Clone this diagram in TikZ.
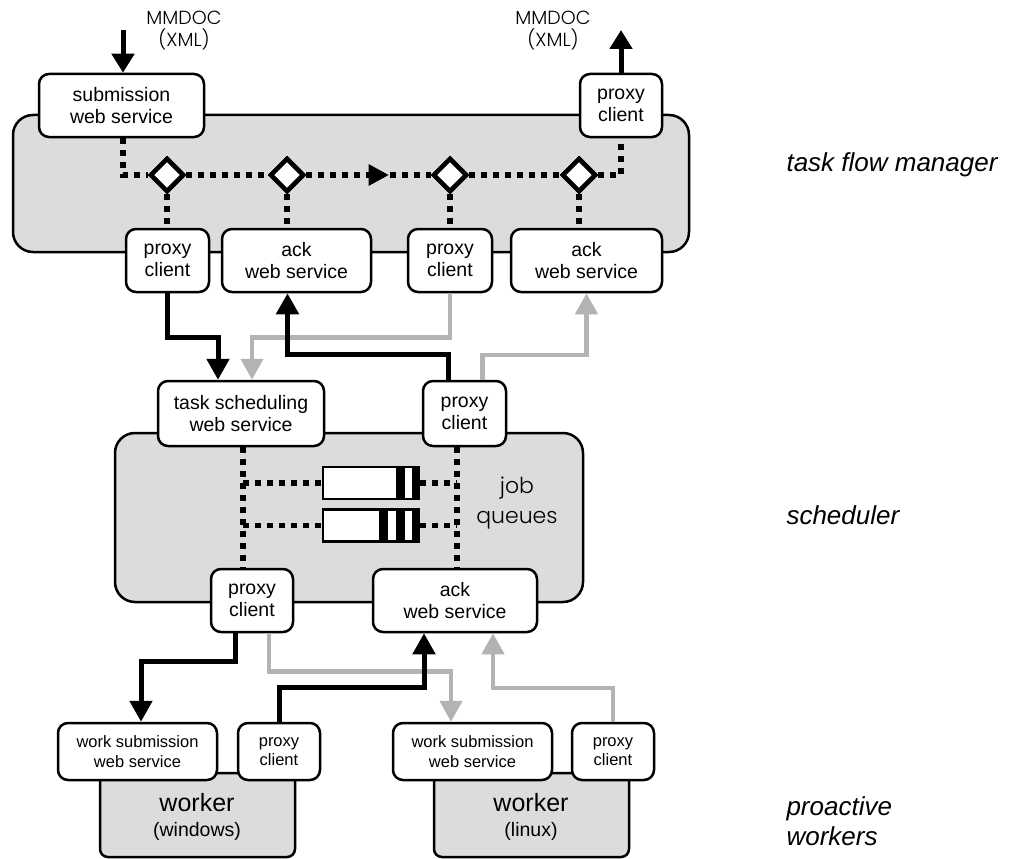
\documentclass[tikz,border=0pt]{standalone}
\usepackage{fontspec}
\setmainfont{Liberation Sans}
\newfontfamily\geofont[UprightFont=* Light]{Poppins}
\usetikzlibrary{arrows.meta,shapes.geometric,decorations.markings}
\definecolor{boxgray}{HTML}{DCDCDC}
\definecolor{arrgray}{HTML}{B3B3B3}
\begin{document}
\begin{tikzpicture}[x=1pt,y=-1pt,
  wbox/.style={draw,line width=2.5pt,fill=white,rounded corners=10pt,inner sep=0pt,align=center,font=\fontsize{19.5}{22.5}\selectfont},
  sbox/.style={wbox,font=\fontsize{16.5}{19.5}\selectfont},
  container/.style={draw,line width=2.5pt,fill=boxgray,rounded corners=20pt,inner sep=0pt},
  blk/.style={line width=5pt,-{Triangle[width=22pt,length=21pt]}},
  gry/.style={line width=4.5pt,draw=arrgray,-{Triangle[width=22pt,length=21pt]}},
  dots/.style={line width=5.5pt,dash pattern=on 6pt off 6pt},
  dia/.style={diamond,draw,line width=4.5pt,fill=white,minimum width=34pt,minimum height=34pt,inner sep=0pt},
  queue/.style={draw,line width=2.5pt,fill=white,inner sep=0pt,minimum width=96pt,minimum height=32pt},
  side/.style={font=\fontsize{26}{30}\selectfont\itshape,anchor=west,align=left},
  geo/.style={font=\geofont\fontsize{19}{22}\selectfont,align=center}
]
\useasboundingbox (0,0) rectangle (1021,859);

% containers
\node[container,minimum width=676pt,minimum height=137pt] (tfm) at (351,183.5) {};
\node[container,minimum width=468pt,minimum height=169pt] (sched) at (349,517.5) {};
\node[container,rounded corners=8pt,minimum width=195pt,minimum height=84pt] (wwin) at (197.5,815) {};
\node[container,rounded corners=8pt,minimum width=195pt,minimum height=84pt] (wlin) at (531.5,815) {};

% task flow manager boxes
\node[wbox,minimum width=165pt,minimum height=63pt] (sub) at (121.5,105.5) {submission\\web service};
\node[wbox,minimum width=82pt,minimum height=63pt] (trpc) at (621,105.5) {proxy\\client};
\node[wbox,minimum width=83pt,minimum height=63pt] (pc1) at (167.5,260.5) {proxy\\client};
\node[wbox,minimum width=149pt,minimum height=63pt] (ack1) at (296.5,260.5) {ack\\web service};
\node[wbox,minimum width=84pt,minimum height=63pt] (pc2) at (450,260.5) {proxy\\client};
\node[wbox,minimum width=151pt,minimum height=63pt] (ack2) at (586.5,260.5) {ack\\web service};

% diamonds
\node[dia] (d1) at (167,175) {};
\node[dia] (d2) at (287,175) {};
\node[dia] (d3) at (450,175) {};
\node[dia] (d4) at (579,175) {};

% dotted flow
\draw[dots] ([xshift=1.5pt]sub.south) |- (d1.west);
\draw[dots] (d1.east) -- (d2.west);
\draw[dots,postaction={decorate},decoration={markings,mark=at position 0.5 with {\fill[solid] (0pt,-11pt) -- (20pt,0pt) -- (0pt,11pt) -- cycle;}}] (d2.east) -- (d3.west);
\draw[dots] (d3.east) -- (d4.west);
\draw[dots] (d4.east) -| (trpc.south);
\draw[dots] (d1.south) -- (d1.south |- pc1.north);
\draw[dots] (d2.south) -- (d2.south |- ack1.north);
\draw[dots] (d3.south) -- (d3.south |- pc2.north);
\draw[dots] (d4.south) -- (d4.south |- ack2.north);
\node[dia] at (d1) {};
\node[dia] at (d2) {};
\node[dia] at (d3) {};
\node[dia] at (d4) {};

% labels top
\node[geo] (m1) at (184,31) {MMDOC\\(XML)};
\node[geo] (m2) at (553,31) {MMDOC\\(XML)};
\coordinate (inS) at (123,30);
\coordinate (outE) at (621,30);
\draw[line width=5pt,-{Triangle[width=22pt,length=19pt]}] (inS) -- (inS |- sub.north);
\draw[line width=5pt,-{Triangle[width=22pt,length=19pt]}] (trpc.north) -- (outE);

% scheduler boxes
\node[wbox,minimum width=166pt,minimum height=65pt] (tsws) at (241,413.5) {task scheduling\\web service};
\node[wbox,minimum width=83pt,minimum height=65pt] (spc) at (464.5,413.5) {proxy\\client};
\node[wbox,minimum width=82pt,minimum height=63pt] (bpc) at (252,600.5) {proxy\\client};
\node[wbox,minimum width=164pt,minimum height=63pt] (back) at (455,600.5) {ack\\web service};

% queues
\coordinate (vl) at ([xshift=2pt]tsws.south);
\coordinate (vr) at ([xshift=2pt]back.north);
\node[queue] (q1) at (371,483) {};
\node[queue] (q2) at (371,525.5) {};
\draw[dots] (vl) -- (vl |- bpc.north);
\draw[dots] (vr |- spc.south) -- (vr);
\draw[dots] (vl |- q1.west) -- (q1.west);
\draw[dots] (q1.east) -- (vr |- q1.east);
\draw[dots] (vl |- q2.west) -- (q2.west);
\draw[dots] (q2.east) -- (vr |- q2.east);
\fill ([xshift=-8pt]q1.north east) rectangle (q1.south east);
\fill ([xshift=-24pt]q1.north east) rectangle ([xshift=-15pt]q1.south east);
\fill ([xshift=-8pt]q2.north east) rectangle (q2.south east);
\fill ([xshift=-24pt]q2.north east) rectangle ([xshift=-15pt]q2.south east);
\fill ([xshift=-41pt]q2.north east) rectangle ([xshift=-32pt]q2.south east);
\node[geo,font=\geofont\fontsize{22}{30}\selectfont] (jq) at (517,503) {job\\queues};

% worker boxes
\node[sbox,minimum width=159pt,minimum height=57pt] (wws) at (137.5,751.5) {work submission\\web service};
\node[sbox,minimum width=82pt,minimum height=57pt] (wpc) at (279,751.5) {proxy\\client};
\node[sbox,minimum width=159pt,minimum height=57pt] (lws) at (472.5,751.5) {work submission\\web service};
\node[sbox,minimum width=82pt,minimum height=57pt] (lpc) at (613,751.5) {proxy\\client};
\node[font=\fontsize{25}{28}\selectfont] (wwt) at (197,803) {worker};
\node[font=\fontsize{19.5}{22}\selectfont] (wwo) at (197,831) {(windows)};
\node[font=\fontsize{25}{28}\selectfont] (wlt) at (531,803) {worker};
\node[font=\fontsize{19.5}{22}\selectfont] (wlo) at (531,831) {(linux)};

% connectors TFM <-> scheduler
\draw[gry] (pc2.south) -- ++(0,44) -| ([xshift=11pt]tsws.north);
\draw[blk] (pc1.south) -- ++(0,44) -| ([xshift=-23pt]tsws.north);
\draw[gry] ([xshift=18pt]spc.north) -- ++(0,-25) -| (ack2.south);
\draw[blk] ([xshift=-16pt]spc.north) -- ++(0,-25) -| ([xshift=-9pt]ack1.south);

% connectors scheduler <-> workers
\draw[gry] ([xshift=17pt]bpc.south) -- ++(0,38) -| ([xshift=-21.5pt]lws.north);
\draw[gry] (lpc.north) -- ++(0,-34) -| ([xshift=38pt]back.south);
\draw[blk] ([xshift=-17pt]bpc.south) -- ++(0,28) -| ([xshift=3.5pt]wws.north);
\draw[blk] (wpc.north) -- ++(0,-34) -| ([xshift=-31pt]back.south);

% side labels
\node[side] (lt) at (783,165) {task flow manager};
\node[side] (ls) at (783,515) {scheduler};
\node[side] (lw) at (783,821) {proactive\\workers};
\end{tikzpicture}
\end{document}
